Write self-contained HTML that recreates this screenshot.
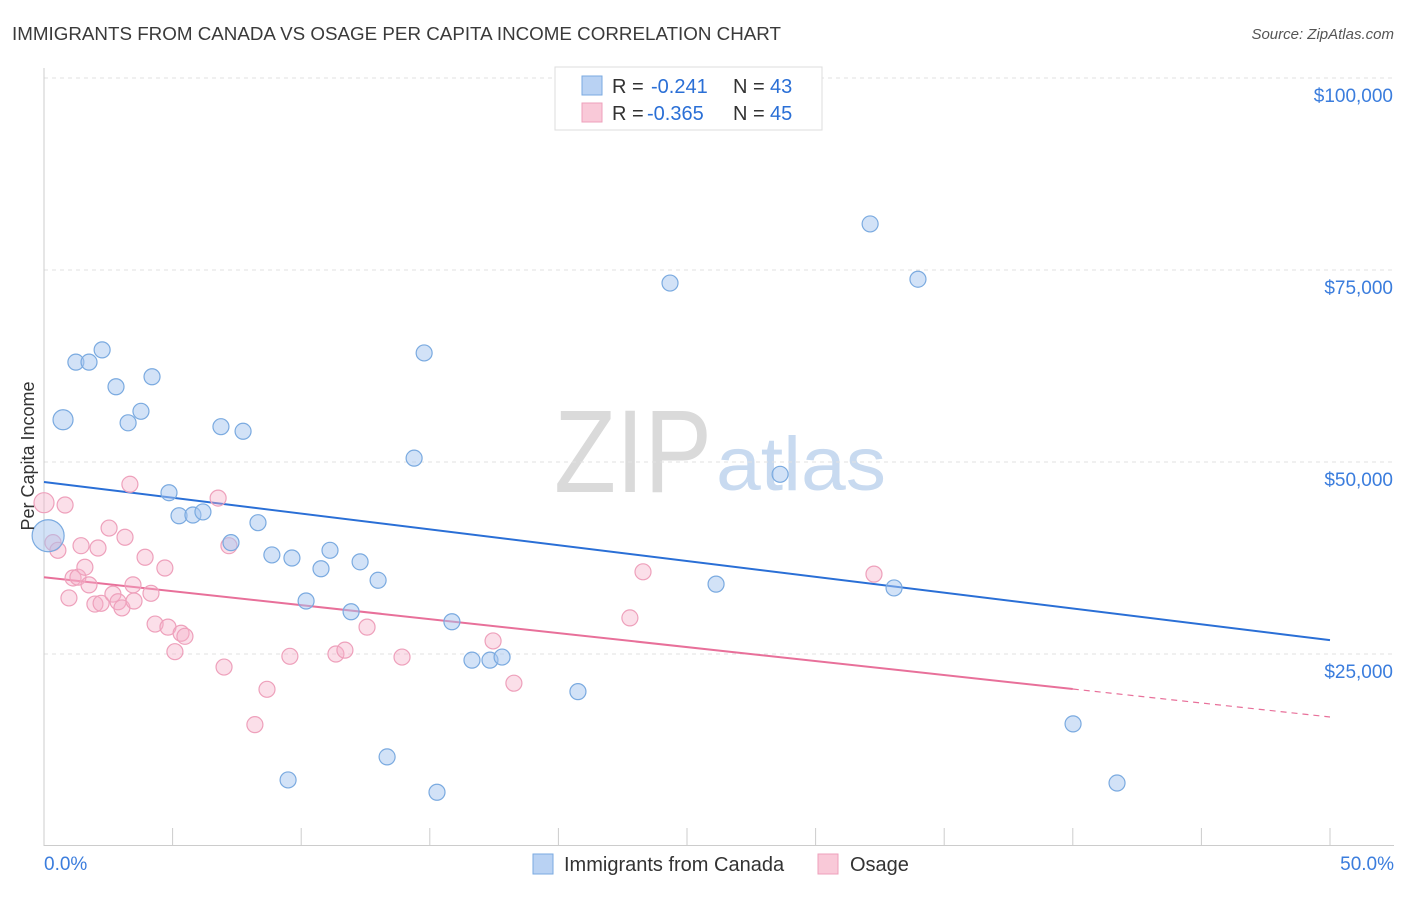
<!DOCTYPE html>
<html><head><meta charset="utf-8">
<style>
body{margin:0;background:#fff;font-family:"Liberation Sans",sans-serif;}
svg text{font-family:"Liberation Sans",sans-serif;}
</style></head>
<body>
<svg id="chart" width="1406" height="892" xmlns="http://www.w3.org/2000/svg">
<text x="12" y="40" font-size="18" fill="#3a3a3a" textLength="769" lengthAdjust="spacingAndGlyphs">IMMIGRANTS FROM CANADA VS OSAGE PER CAPITA INCOME CORRELATION CHART</text>
<text x="1394" y="39" font-size="15" fill="#555" text-anchor="end" font-style="italic">Source: ZipAtlas.com</text>
<g>
<text x="712" y="492" font-size="118" fill="#dadada" text-anchor="end" font-family="Liberation Serif" textLength="158" lengthAdjust="spacingAndGlyphs">ZIP</text>
<text x="716" y="490" font-size="76" fill="#c8daf0" textLength="170" lengthAdjust="spacingAndGlyphs">atlas</text>
</g>
<g id="grid"></g>
<g id="axes"></g>
<g id="lines"></g>
<g id="points"></g>
<text transform="translate(34,456) rotate(-90)" font-size="18" fill="#333" text-anchor="middle">Per Capita Income</text>
<g>
<rect x="555" y="67" width="267" height="63" fill="#fff" stroke="#ddd"/>
<rect x="582" y="76" width="20" height="19" fill="#b9d2f3" stroke="#7aaae0"/>
<text x="612" y="93" font-size="20" fill="#333">R =</text>
<text x="651" y="93" font-size="20" fill="#2a6fd6">-0.241</text>
<text x="733" y="93" font-size="20" fill="#333">N =</text>
<text x="770" y="93" font-size="20" fill="#2a6fd6">43</text>
<rect x="582" y="103" width="20" height="19" fill="#f9c9d8" stroke="#eea0bb"/>
<text x="612" y="120" font-size="20" fill="#333">R =</text>
<text x="647" y="120" font-size="20" fill="#2a6fd6">-0.365</text>
<text x="733" y="120" font-size="20" fill="#333">N =</text>
<text x="770" y="120" font-size="20" fill="#2a6fd6">45</text>
</g>
<g>
<rect x="533" y="854" width="20" height="20" fill="#b9d2f3" stroke="#7aaae0"/>
<text x="564" y="871" font-size="20" fill="#333">Immigrants from Canada</text>
<rect x="818" y="854" width="20" height="20" fill="#f9c9d8" stroke="#eea0bb"/>
<text x="850" y="871" font-size="20" fill="#333">Osage</text>
</g>
</svg>
<script>
const yTicks=[25000,50000,75000,100000];
const yTickLabels=["$25,000","$50,000","$75,000","$100,000"];
const xTickLabels=["0.0%","50.0%"];
const canadaX=[0.74,1.24,1.75,2.26,2.80,3.27,3.77,4.20,4.86,5.25,5.79,6.18,6.88,7.27,7.74,8.32,8.86,9.64,9.49,10.19,10.77,11.12,11.94,12.29,12.99,13.34,14.39,14.78,15.28,15.86,16.64,17.34,17.81,20.76,24.34,26.13,28.62,32.12,33.05,33.98,40.01,41.72,0.16];
const canadaY=[55.5,63.0,63.0,64.6,59.8,55.1,56.6,61.1,46.0,43.0,43.1,43.5,54.6,39.5,54.0,42.1,37.9,37.5,8.6,31.9,36.1,38.5,30.5,37.0,34.6,11.6,50.5,64.2,7.0,29.2,24.2,24.2,24.6,20.1,73.3,34.1,48.4,81.0,33.6,73.8,15.9,8.2,40.4];
const osageX=[0,0.35,0.54,0.82,0.97,1.13,1.32,1.44,1.59,1.75,1.98,2.10,2.22,2.53,2.68,2.88,3.03,3.15,3.34,3.46,3.50,3.93,4.16,4.32,4.70,4.82,5.09,5.33,5.48,6.77,7.00,7.19,8.20,8.67,9.56,11.35,11.70,12.56,13.92,17.46,18.27,22.78,23.29,32.27];
const osageY=[44.7,39.5,38.5,44.4,32.3,34.9,35.0,39.1,36.3,34.0,31.5,38.8,31.6,41.4,32.8,31.8,31.0,40.2,47.1,34.0,31.9,37.6,32.9,28.9,36.2,28.5,25.3,27.7,27.3,45.3,23.3,39.1,15.8,20.4,24.7,25.0,25.5,28.5,24.6,26.7,21.2,29.7,35.7,35.4];
const canadaTrend=[47.4,26.8];
const osageTrend=[35.0,16.8];
const osageSolidEnd=40;

const NS="http://www.w3.org/2000/svg";
const X=p=>44+p*25.72;
const Y=k=>846-k*7.68;
function mk(tag,attrs,parent){const e=document.createElementNS(NS,tag);for(const k in attrs)e.setAttribute(k,attrs[k]);document.getElementById(parent).appendChild(e);return e;}

yTicks.forEach((v,i)=>{
  const y=Y(v/1000);
  const g=mk('line',{x1:44,x2:1394,y1:y,y2:y,stroke:'#e2e2e2','stroke-dasharray':'4,4'},'grid');
  
  
  const t=mk('text',{x:1393,y:y+24,'font-size':19,fill:'#3b7ddd','text-anchor':'end'},'grid');
  t.textContent=yTickLabels[i];
  
  
});
const ya=mk('line',{x1:44,x2:44,y1:68,y2:846,stroke:'#ccc'},'axes');


const xa=mk('line',{x1:44,x2:1394,y1:845.5,y2:845.5,stroke:'#ccc'},'axes');


for(let i=0;i<=10;i++){
  const x=X(i*5);
  const tk=mk('line',{x1:x,x2:x,y1:828,y2:845,stroke:'#ccc'},'axes');
  
  
}
[[0,'start',44],[50,'end',1394]].forEach((d,i)=>{
  const t=mk('text',{x:d[2],y:870,'font-size':19,fill:'#3b7ddd','text-anchor':d[1]},'axes');
  t.textContent=xTickLabels[i];
  
  
});
const bl=mk('line',{x1:X(0),y1:Y(canadaTrend[0]),x2:X(50),y2:Y(canadaTrend[1]),stroke:'#2a6fd6','stroke-width':2},'lines');


const ps=(osageTrend[1]-osageTrend[0])/50;
const pl=mk('line',{x1:X(0),y1:Y(osageTrend[0]),x2:X(osageSolidEnd),y2:Y(osageTrend[0]+ps*osageSolidEnd),stroke:'#e8709a','stroke-width':2},'lines');


const pd=mk('line',{x1:X(osageSolidEnd),y1:Y(osageTrend[0]+ps*osageSolidEnd),x2:X(50),y2:Y(osageTrend[1]),stroke:'#e8709a','stroke-width':1.2,'stroke-dasharray':'6,5'},'lines');



osageX.forEach((x,i)=>{
  const c=mk('circle',{cx:X(x),cy:Y(osageY[i]),r:i===0?10:8,fill:'rgba(246,175,200,0.4)',stroke:'#eea0bb','stroke-width':1.2},'points');
  
  
});
canadaX.forEach((x,i)=>{
  const r=x===0.16?16:(x===0.74?10:8);
  const c=mk('circle',{cx:X(x),cy:Y(canadaY[i]),r:r,fill:'rgba(165,198,240,0.5)',stroke:'#7aaae0','stroke-width':1.2},'points');
  
  
});
</script>
</body></html>
